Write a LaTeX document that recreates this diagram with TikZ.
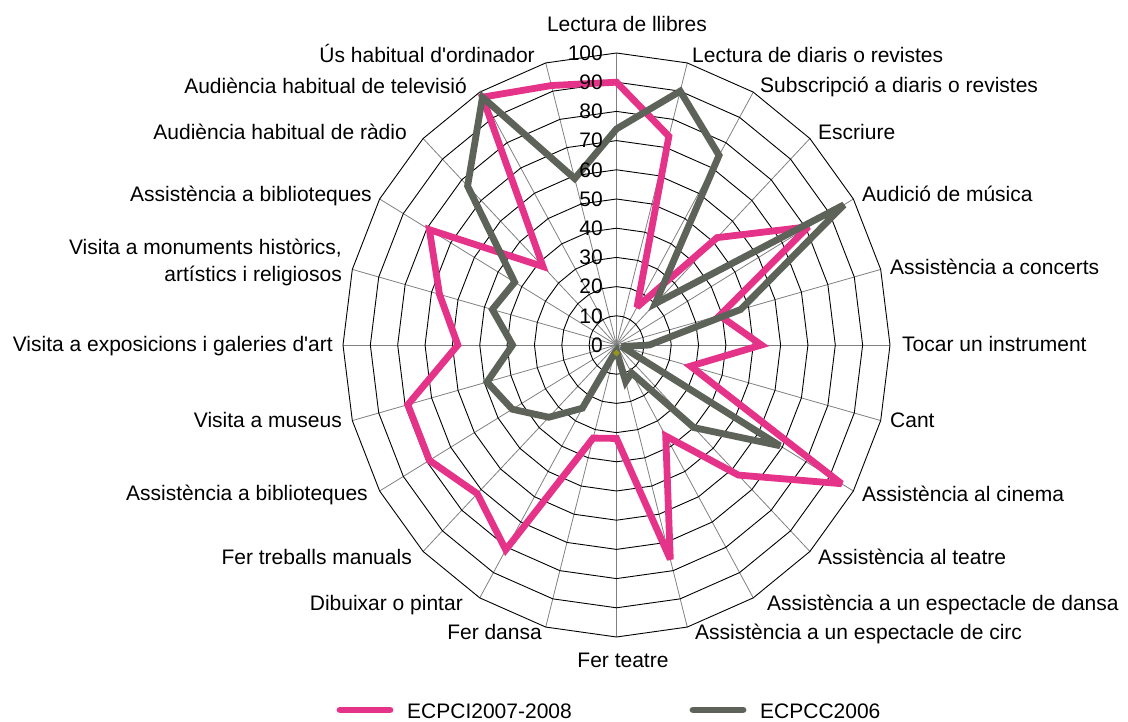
\documentclass[tikz,border=0pt]{standalone}
\usepackage{fontspec}
\setmainfont{Liberation Sans}
\usepackage{tikz}
\usetikzlibrary{shapes.geometric}
\definecolor{ecpci}{RGB}{229,51,137}
\definecolor{ecpcc}{RGB}{94,99,90}
\definecolor{zeromark}{RGB}{150,150,30}
\tikzstyle{lbl}=[inner sep=0pt, font=\fontsize{21}{27}\selectfont]
\tikzstyle{ring}=[black, line width=0.9pt]
\tikzstyle{spoke}=[black!50, line width=0.8pt]
\tikzstyle{seri}=[ecpci, line width=6.8pt, line join=miter, miter limit=3]
\tikzstyle{serc}=[ecpcc, line width=6.8pt, line join=miter, miter limit=3]

\begin{document}
\begin{tikzpicture}[x=1pt, y=-1pt]
\useasboundingbox (0,0) rectangle (1128,722);

\coordinate (o) at (616.5,345);

% spokes and rings
\foreach \i in {0,...,23}
  \draw[spoke] (o) -- ({616.5+273.5*sin(\i*15)},{345-292*cos(\i*15)});
\foreach \k in {1,...,10}
  \draw[ring] (616.5,{345-29.2*\k}) \foreach \i in {1,...,23}{ -- ({616.5+27.35*\k*sin(\i*15)},{345-29.2*\k*cos(\i*15)})} -- cycle;

% series points
\foreach \v [count=\i from 0] in {90,74,15,52,81,39,53,28,95,63,36,76,32,33,81,72,79,79,58,67,79,38,98,92}
  \coordinate (i\i) at ({616.5+2.735*\v*sin(\i*15)},{345-2.92*\v*cos(\i*15)});
\foreach \v [count=\i from 0] in {74,90,75,20,96,47,12,2,69,40,11,13,2,3,25,35,44,49,38,47,43,77,98,59}
  \coordinate (c\i) at ({616.5+2.735*\v*sin(\i*15)},{345-2.92*\v*cos(\i*15)});

\draw[seri] (i0) \foreach \i in {1,...,23}{ -- (i\i)} -- cycle;
\draw[serc] (c0) \foreach \i in {1,...,23}{ -- (c\i)} -- cycle;

\node[diamond, fill=zeromark, inner sep=0pt, minimum size=7pt] (zero) at (616.5,353) {};

% scale
\foreach \k [evaluate=\k as \t using int(10*\k)] in {0,...,10}
  \node[lbl, anchor=east] (t\k) at (603,{345-29.2*\k}) {\t};

% axis labels
\node[lbl, anchor=base] (l0) at (627,32) {Lectura de llibres};
\node[lbl, anchor=base west] (l1) at (692,63) {Lectura de diaris o revistes};
\node[lbl, anchor=base west] (l2) at (760,93) {Subscripció a diaris o revistes};
\node[lbl, anchor=base west] (l3) at (818,140) {Escriure};
\node[lbl, anchor=base west] (l4) at (862,202) {Audició de música};
\node[lbl, anchor=base west] (l5) at (890,275) {Assistència a concerts};
\node[lbl, anchor=base west] (l6) at (902,352) {Tocar un instrument};
\node[lbl, anchor=base west] (l7) at (890,427) {Cant};
\node[lbl, anchor=base west] (l8) at (862,501) {Assistència al cinema};
\node[lbl, anchor=base west] (l9) at (818,564) {Assistència al teatre};
\node[lbl, anchor=base west] (l10) at (767,610) {Assistència a un espectacle de dansa};
\node[lbl, anchor=base west] (l11) at (695,639) {Assistència a un espectacle de circ};
\node[lbl, anchor=base] (l12) at (623,667) {Fer teatre};
\node[lbl, anchor=base east] (l13) at (542,639) {Fer dansa};
\node[lbl, anchor=base east] (l14) at (463,610) {Dibuixar o pintar};
\node[lbl, anchor=base east] (l15) at (412,564) {Fer treballs manuals};
\node[lbl, anchor=base east] (l16) at (368,500) {Assistència a biblioteques};
\node[lbl, anchor=base east] (l17) at (342,427) {Visita a museus};
\node[lbl, anchor=base east] (l18) at (333,352) {Visita a exposicions i galeries d\textquotesingle art};
\node[lbl, anchor=east, align=right] (l19) at (342,262) {Visita a monuments històrics,\\artístics i religiosos};
\node[lbl, anchor=base east] (l20) at (372,202) {Assistència a biblioteques};
\node[lbl, anchor=base east] (l21) at (407,140) {Audiència habitual de ràdio};
\node[lbl, anchor=base east] (l22) at (467,94) {Audiència habitual de televisió};
\node[lbl, anchor=base east] (l23) at (535,63) {Ús habitual d\textquotesingle ordinador};

% legend
\draw[seri, line cap=round] (340,710) -- (390,710);
\node[lbl, anchor=base west] (legi) at (407,718) {ECPCI2007-2008};
\draw[serc, line cap=round] (693,710) -- (743,710);
\node[lbl, anchor=base west] (legc) at (760,718) {ECPCC2006};
\end{tikzpicture}
\end{document}
